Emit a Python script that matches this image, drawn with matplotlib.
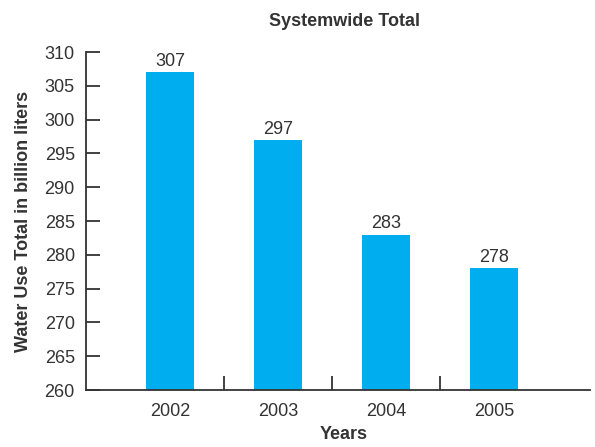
import numpy as np
import matplotlib.pyplot as plt

plt.rcParams['font.family'] = ['Liberation Sans', 'DejaVu Sans']

years = ["2002", "2003", "2004", "2005"]
water_use = [307, 297, 283, 278]

bar_color = "#00AEEF"
text_color = "#333333"

fig = plt.figure(figsize=(5.95, 4.47), dpi=100)
ax = fig.add_axes([0.1445, 0.1275, 0.847, 0.756])

x = np.arange(len(years))
bars = ax.bar(x, np.array(water_use) - 260, bottom=260, width=0.44, color=bar_color)

for xi, v in zip(x, water_use):
    ax.text(xi, v + 0.35, str(v), ha="center", va="bottom", fontsize=13, color=text_color)

ax.set_ylim(260, 310)
ax.set_xlim(-0.78, 3.89)
ax.set_yticks(np.arange(260, 311, 5))
ax.set_xticks(x)
ax.set_xticklabels(years)
ax.set_xticks(x[:-1] + 0.5, minor=True)

ax.spines["top"].set_visible(False)
ax.spines["right"].set_visible(False)
for s in ("left", "bottom"):
    ax.spines[s].set_linewidth(1.3)
    ax.spines[s].set_color(text_color)

ax.tick_params(axis="y", direction="in", length=10, width=1.3, color=text_color,
               labelsize=13, labelcolor=text_color, pad=8)
ax.tick_params(axis="x", which="major", length=0, labelsize=13, labelcolor=text_color, pad=9)
ax.tick_params(axis="x", which="minor", direction="in", length=10, width=1.3, color=text_color)

ax.set_title("Systemwide Total", fontsize=13, fontweight="bold", color=text_color, pad=19, x=0.512)
ax.set_xlabel("Years", fontsize=13, fontweight="bold", color=text_color, labelpad=5, x=0.512)
ax.set_ylabel("Water Use Total in billion liters", fontsize=13, fontweight="bold",
              color=text_color, labelpad=9)

fig.savefig("out.png", dpi=100)
